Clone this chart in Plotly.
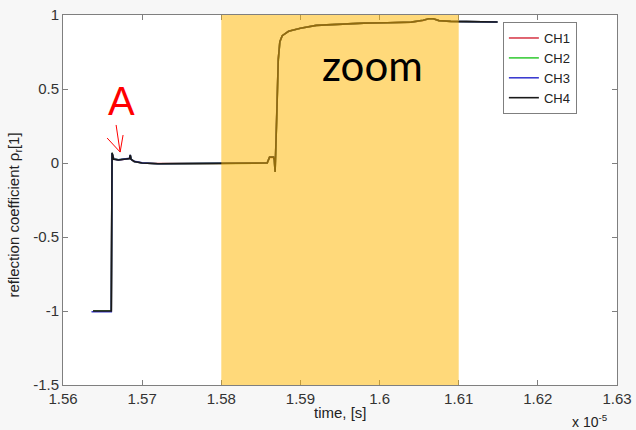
import plotly.graph_objects as go

# time in units of 1e-5 s
t = [1.5638, 1.5661, 1.5662, 1.5664, 1.5670, 1.5678, 1.5684, 1.5685, 1.5686, 1.5690,
     1.5700, 1.5720, 1.5760, 1.5800, 1.5840, 1.5858, 1.5861, 1.5866, 1.5867, 1.5868,
     1.5870, 1.5872, 1.5874, 1.5877, 1.5885, 1.5900, 1.5920, 1.5950, 1.5980, 1.6010,
     1.6040, 1.6055, 1.6062, 1.6068, 1.6075, 1.6090, 1.6110, 1.6130, 1.6149]

ch4 = [-1.0, -1.0, 0.07, 0.025, 0.02, 0.025, 0.03, 0.055, 0.025, 0.01,
       0.0, -0.005, -0.005, -0.003, 0.0, 0.0, 0.04, 0.04, 0.02, -0.06,
       0.30, 0.70, 0.82, 0.86, 0.89, 0.91, 0.93, 0.94, 0.945, 0.948,
       0.952, 0.965, 0.975, 0.975, 0.962, 0.957, 0.955, 0.955, 0.953]
ch1 = [-1.0, -1.0, 0.065, 0.03, 0.02, 0.025, 0.03, 0.05, 0.025, 0.01,
       0.0, -0.004, -0.005, -0.003, 0.0, 0.0, 0.038, 0.04, 0.02, -0.055,
       0.31, 0.70, 0.82, 0.86, 0.89, 0.91, 0.93, 0.94, 0.945, 0.948,
       0.952, 0.963, 0.974, 0.975, 0.962, 0.957, 0.955, 0.955, 0.953]
ch2 = [-1.0, -1.0, 0.068, 0.028, 0.022, 0.024, 0.03, 0.052, 0.026, 0.01,
       0.0, -0.005, -0.004, -0.003, 0.0, 0.0, 0.039, 0.04, 0.02, -0.058,
       0.30, 0.69, 0.82, 0.86, 0.89, 0.91, 0.93, 0.94, 0.945, 0.948,
       0.952, 0.964, 0.975, 0.974, 0.962, 0.957, 0.955, 0.955, 0.953]
ch3 = [-1.005, -1.005, 0.066, 0.027, 0.021, 0.025, 0.031, 0.054, 0.025, 0.011,
       0.001, -0.005, -0.005, -0.002, 0.0, 0.001, 0.04, 0.041, 0.02, -0.057,
       0.30, 0.70, 0.82, 0.86, 0.89, 0.91, 0.93, 0.94, 0.945, 0.948,
       0.952, 0.964, 0.975, 0.975, 0.962, 0.957, 0.955, 0.955, 0.953]
t3 = [1.5636] + t[1:]

channels = ["CH1", "CH2", "CH3", "CH4"]
colors = ["#d8404f", "#3ccc3c", "#3c3cd0", "#1a1a1a"]
series = [(t, ch1), (t, ch2), (t3, ch3), (t, ch4)]

xticks = [1.56, 1.57, 1.58, 1.59, 1.60, 1.61, 1.62, 1.63]
xticklabels = ["1.56", "1.57", "1.58", "1.59", "1.6", "1.61", "1.62", "1.63"]
yticks = [-1.5, -1, -0.5, 0, 0.5, 1]
yticklabels = ["-1.5", "-1", "-0.5", "0", "0.5", "1"]

zoom_range = [1.58, 1.61]

fig = go.Figure()
for name, col, (tx, vy) in zip(channels, colors, series):
    fig.add_trace(go.Scatter(x=tx, y=vy, mode="lines", name=name,
                             line=dict(color=col, width=1.6)))

fig.add_shape(type="rect", xref="x", yref="y", x0=zoom_range[0], x1=zoom_range[1],
              y0=-1.5, y1=1, fillcolor="rgb(255,182,0)", opacity=0.52,
              line=dict(width=0), layer="above")

fig.add_annotation(x=1.5991, y=0.66, xref="x", yref="y", text="zoom", showarrow=False,
                   font=dict(family="Lato", size=42, color="black"))
fig.add_annotation(x=1.56735, y=0.42, xref="x", yref="y", text="A", showarrow=False,
                   font=dict(family="Liberation Sans", size=40, color="red"))
# arrow pointing at spike A
for (xa, ya) in [(1.56557, 0.169), (1.56671, 0.257), (1.56759, 0.189)]:
    fig.add_shape(type="line", xref="x", yref="y", x0=xa, y0=ya, x1=1.56722, y1=0.074,
                  line=dict(color="red", width=1))

axis_common = dict(showline=True, linecolor="#7f7f7f", linewidth=1, mirror="ticks",
                   ticks="inside", ticklen=5, tickcolor="#7f7f7f", showgrid=False,
                   zeroline=False, automargin=False,
                   tickfont=dict(family="Liberation Sans", size=15, color="#333"))

fig.update_xaxes(range=[1.56, 1.63], tickvals=xticks, ticktext=xticklabels, **axis_common)
fig.update_yaxes(range=[-1.5, 1], tickvals=yticks, ticktext=yticklabels, **axis_common)

fig.add_annotation(x=0.5, y=-0.073, xref="paper", yref="paper", text="time, [s]",
                   showarrow=False, xanchor="center", yanchor="middle",
                   font=dict(family="Liberation Sans", size=15, color="#222"))
fig.add_annotation(x=0.951, y=-0.097, xref="paper", yref="paper", text="x 10<sup>-5</sup>",
                   showarrow=False, xanchor="center", yanchor="middle",
                   font=dict(family="Liberation Sans", size=14, color="#222"))
fig.add_annotation(x=-0.087, y=0.46, xref="paper", yref="paper",
                   text="reflection coefficient ρ<sub>r</sub>[1]", textangle=-90,
                   showarrow=False, xanchor="center", yanchor="middle",
                   font=dict(family="Liberation Sans", size=15, color="#222"))

fig.update_layout(
    width=636, height=430,
    margin=dict(l=63, r=19, t=15, b=45, autoexpand=False),
    paper_bgcolor="#f7f7f7", plot_bgcolor="white",
    showlegend=True,
    legend=dict(x=0.794, y=0.981, xanchor="left", yanchor="top", bgcolor="white",
                bordercolor="#7f7f7f", borderwidth=1, tracegroupgap=0,
                font=dict(family="Liberation Sans", size=13, color="#222")),
)

fig.write_html("out.html")
